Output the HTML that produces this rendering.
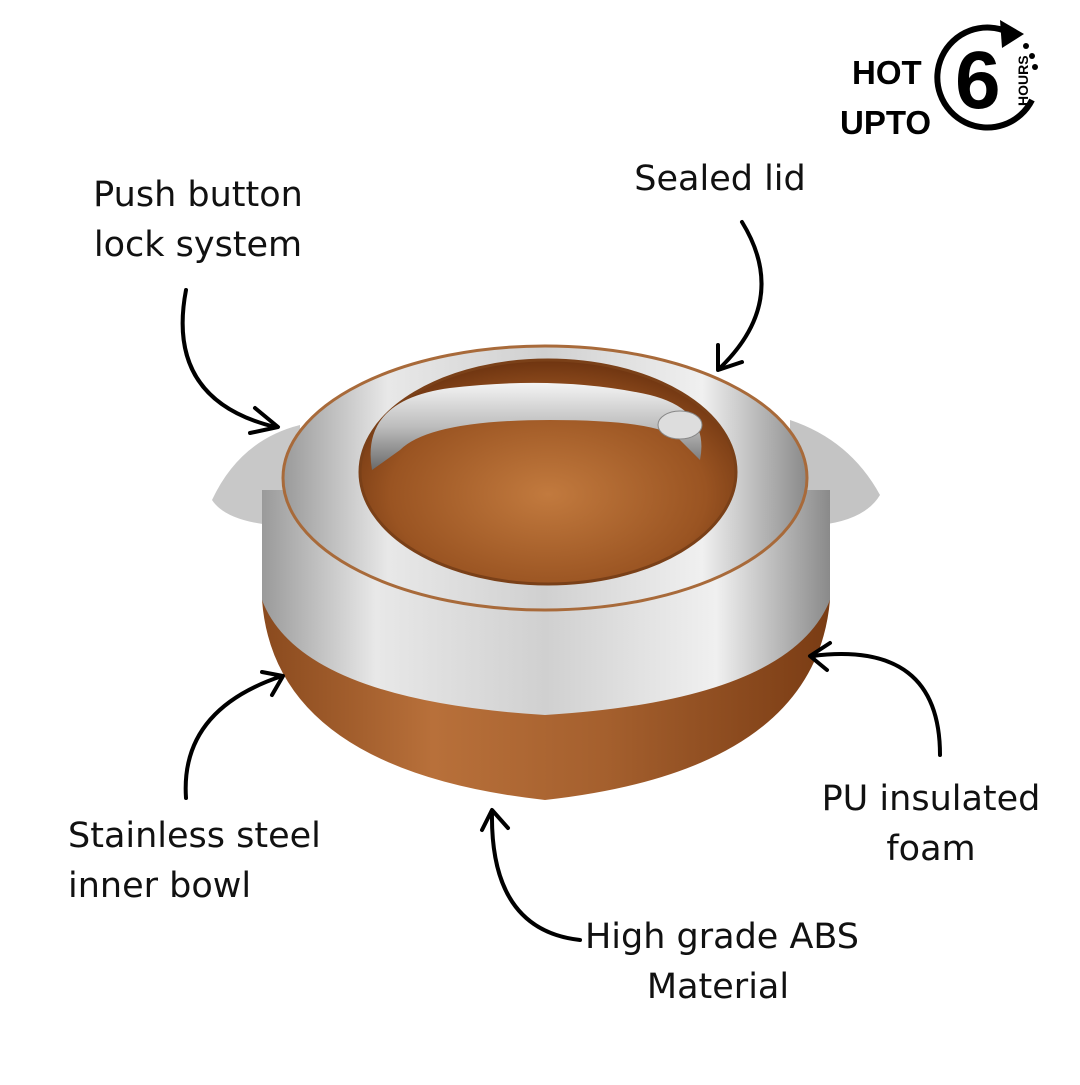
<!DOCTYPE html>
<html><head><style>
body{margin:0;width:1080px;height:1080px;background:#fff;overflow:hidden;font-family:"Liberation Sans",sans-serif}
</style></head><body>
<svg width="1080" height="1080" viewBox="0 0 1080 1080" xmlns="http://www.w3.org/2000/svg">
<defs>
<linearGradient id="sil" x1="0" x2="1" y1="0" y2="0">
<stop offset="0" stop-color="#9a9a9a"/><stop offset="0.2" stop-color="#e8e8e8"/><stop offset="0.5" stop-color="#d0d0d0"/><stop offset="0.8" stop-color="#f0f0f0"/><stop offset="1" stop-color="#8a8a8a"/>
</linearGradient>
<linearGradient id="wood" x1="0" x2="1" y1="0" y2="0">
<stop offset="0" stop-color="#8a4a1e"/><stop offset="0.3" stop-color="#b8703a"/><stop offset="0.6" stop-color="#a5602e"/><stop offset="1" stop-color="#7a3c14"/>
</linearGradient>
<radialGradient id="lid" cx="0.5" cy="0.6" r="0.6">
<stop offset="0" stop-color="#c27a3e"/><stop offset="0.7" stop-color="#9a5422"/><stop offset="1" stop-color="#6e3410"/>
</radialGradient>
<linearGradient id="hnd" x1="0" x2="0" y1="0" y2="1">
<stop offset="0" stop-color="#f4f4f4"/><stop offset="0.5" stop-color="#bdbdbd"/><stop offset="1" stop-color="#6a6a6a"/>
</linearGradient>
</defs>
<path d="M300 425 Q240 440 212 500 Q225 520 270 525 L300 520 Z" fill="#c8c8c8"/>
<path d="M790 420 Q850 440 880 495 Q865 520 820 525 L790 520 Z" fill="#c4c4c4"/>
<path d="M262 490 L262 600 Q275 770 545 800 Q815 770 830 600 L830 490 Z" fill="url(#wood)"/>
<path d="M262 490 L262 600 Q300 700 545 715 Q790 700 830 600 L830 490 Z" fill="url(#sil)"/>
<ellipse cx="545" cy="478" rx="262" ry="132" fill="url(#sil)"/>
<ellipse cx="545" cy="478" rx="262" ry="132" fill="none" stroke="#a86a3a" stroke-width="3"/>
<ellipse cx="548" cy="472" rx="188" ry="112" fill="url(#lid)" stroke="#7a4018" stroke-width="3"/>
<path d="M372 470 Q360 400 450 388 Q560 375 650 395 Q710 410 700 460 L680 440 Q660 420 550 420 Q430 420 400 450 Z" fill="url(#hnd)"/>
<ellipse cx="680" cy="425" rx="22" ry="14" fill="#ddd" stroke="#888"/>
<g font-family="DejaVu Sans, sans-serif" font-size="35" fill="#111" text-anchor="middle">
<text x="198" y="206">Push button</text><text x="198" y="256">lock system</text>
<text x="720" y="190">Sealed lid</text>
<text x="68" y="847" text-anchor="start">Stainless steel</text><text x="68" y="897" text-anchor="start">inner bowl</text>
<text x="931" y="810">PU insulated</text><text x="931" y="860">foam</text>
<text x="722" y="948">High grade ABS</text><text x="718" y="998">Material</text>
</g>
<g fill="none" stroke="#000" stroke-width="4" stroke-linecap="round" stroke-linejoin="round">
<path d="M186 290 Q165 400 275 427"/><path d="M255 408 L278 427 L250 433"/>
<path d="M742 222 Q790 300 720 368"/><path d="M718 345 L718 370 L742 362"/>
<path d="M186 798 Q180 710 282 676"/><path d="M262 672 L283 676 L272 695"/>
<path d="M940 755 Q940 640 812 656"/><path d="M830 643 L810 656 L827 670"/>
<path d="M580 940 Q490 930 492 812"/><path d="M482 830 L492 810 L508 828"/>
</g>
<g font-weight="bold" fill="#000">
<text x="852" y="84" font-size="33">HOT</text>
<text x="840" y="134" font-size="33">UPTO</text>
<text x="955" y="108" font-size="82">6</text>
<text transform="translate(1028 106) rotate(-90)" x="0" y="0" font-size="14">HOURS</text>
</g>
<path d="M1032 100 A50 50 0 1 1 1008 32" fill="none" stroke="#000" stroke-width="6"/>
<path d="M1000 20 L1024 34 L1002 48 Z" fill="#000"/>
<circle cx="1026" cy="46" r="3"/><circle cx="1032" cy="56" r="3"/><circle cx="1035" cy="67" r="3"/>
</svg>
</body></html>
